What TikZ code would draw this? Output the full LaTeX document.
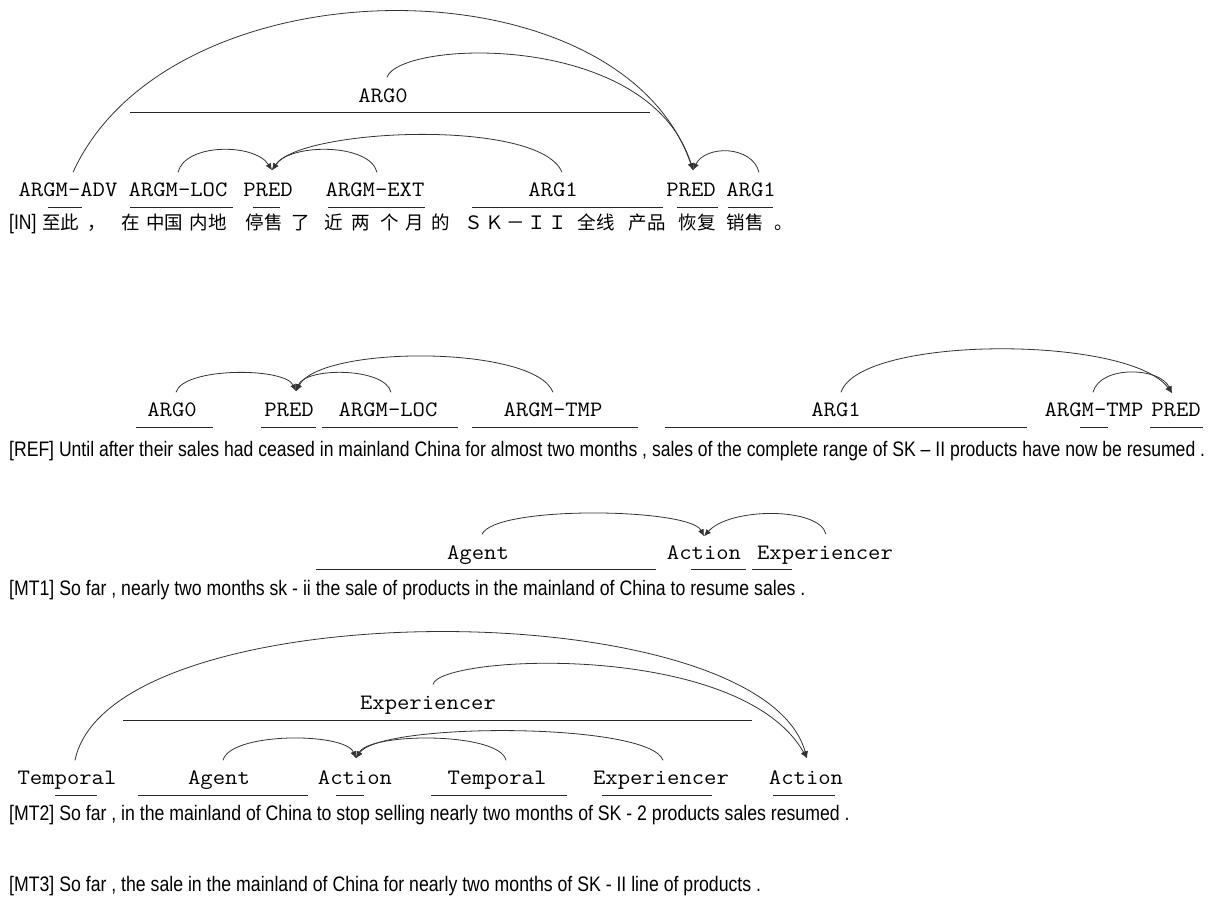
\documentclass[tikz,border=0pt]{standalone}
\usepackage{fontspec}
\usepackage{graphicx}
\usetikzlibrary{arrows.meta}
\newfontfamily\sentfont{Liberation Sans}
\newfontfamily\cjkfont{Noto Sans CJK SC}
\newlength\refw
\newcommand\reftext{[REF] Until after their sales had ceased in mainland China for almost two months , sales of the complete range of SK – II products have now be resumed .}
\newcommand\sent[1]{\scalebox{\sx}[1]{\fontsize{21}{21}\selectfont\sentfont #1}}
\newcommand\sentm[1]{\scalebox{\sxm}[1]{\fontsize{21}{21}\selectfont\sentfont #1}}
\newcommand\lx[1]{\scalebox{1.09}[1]{#1}}
\begin{document}
\settowidth\refw{\fontsize{21}{21}\selectfont\sentfont \reftext}%
\pgfmathsetmacro\sx{1196/\refw}%
\pgfmathsetmacro\sxm{1.006*\sx}%
\begin{tikzpicture}[x=1pt,y=-1pt,
  lab/.style={inner sep=0pt,text height=13pt,text depth=0pt,font=\fontsize{22}{22}\selectfont\ttfamily},
  sen/.style={inner sep=0pt,anchor=base west},
  cjk/.style={inner sep=0pt,anchor=base,font=\fontsize{18.5}{18.5}\selectfont\cjkfont},
  cjkw/.style={inner sep=0pt,anchor=base west,font=\fontsize{18.5}{18.5}\selectfont\cjkfont},
  uline/.style={draw=black!85,line width=0.8pt},
  arc/.style={draw=black!80,line width=0.8pt,-{Latex[length=7pt,width=6pt]}},
]
\useasboundingbox[fill=white] (0,0) rectangle (1223,903);

% ===================== IN =====================
\node[sen] (inlab) at (9,229.5) {\sent{[IN]}};
\node[cjk] (c1) at (60.5,229.5) {至此};
\node[cjkw] (c2) at (87,229.5) {，};
\node[cjk] (c3) at (131,229.5) {在};
\node[cjk] (c4) at (164.5,229.5) {中国};
\node[cjk] (c5) at (208,229.5) {内地};
\node[cjk] (c6) at (264,229.5) {停售};
\node[cjk] (c7) at (301,229.5) {了};
\node[cjk] (c8) at (334,229.5) {近};
\node[cjk] (c9) at (361,229.5) {两};
\node[cjk] (c10) at (390,229.5) {个};
\node[cjk] (c11) at (415,229.5) {月};
\node[cjk] (c12) at (441,229.5) {的};
\node[cjk] (c13) at (474,229.5) {Ｓ};
\node[cjk] (c14) at (495,229.5) {Ｋ};
\node[cjk] (c15) at (516,229.5) {－};
\node[cjk] (c16) at (537,229.5) {Ｉ};
\node[cjk] (c17) at (558,229.5) {Ｉ};
\node[cjk] (c18) at (596,229.5) {全线};
\node[cjk] (c19) at (647,229.5) {产品};
\node[cjk] (c20) at (697,229.5) {恢复};
\node[cjk] (c21) at (745,229.5) {销售};
\node[cjkw] (c22) at (774,229.5) {。};

\node[lab] (adv) at (68,190) {\lx{ARGM-ADV}};
\node[lab] (loc) at (178,190) {\lx{ARGM-LOC}};
\node[lab] (predA) at (268,190) {\lx{PRED}};
\node[lab] (ext) at (375,190) {\lx{ARGM-EXT}};
\node[lab] (argA) at (553,190) {\lx{ARG1}};
\node[lab] (predB) at (691,190) {\lx{PRED}};
\node[lab] (argB) at (751,190) {\lx{ARG1}};
\node[lab] (argZ) at (383,96) {\lx{ARG0}};

\foreach \a/\b in {48/82,130/233,253/280,328/425,472/663,677/718,728/773}
  \draw[uline] (\a,207) -- (\b,207);
\draw[uline] (130,112) -- (650,112);

\draw[arc] ([xshift=5pt,yshift=11pt]adv.north) .. controls (170,-41) and (620,-43) .. ([xshift=2pt,yshift=13pt]predB.north);
\draw[arc] ([xshift=4pt,yshift=12pt]argZ.north) .. controls (400,40) and (650,30) .. ([xshift=2pt,yshift=13pt]predB.north);
\draw[arc] ([xshift=8pt,yshift=11pt]argB.north) .. controls (752,145) and (705,145) .. ([xshift=2pt,yshift=13pt]predB.north);
\draw[arc] ([xshift=0pt,yshift=11pt]loc.north) .. controls (185,143) and (255,143) .. ([xshift=4pt,yshift=13pt]predA.north);
\draw[arc] ([xshift=2pt,yshift=11pt]ext.north) .. controls (370,143) and (290,143) .. ([xshift=4pt,yshift=13pt]predA.north);
\draw[arc] ([xshift=9pt,yshift=11pt]argA.north) .. controls (540,118) and (300,128) .. ([xshift=4pt,yshift=13pt]predA.north);

% ===================== REF =====================
\node[sen] (refs) at (9,456) {\sent{\reftext}};
\node[lab] (r1) at (172,410) {\lx{ARG0}};
\node[lab] (r2) at (289,410) {\lx{PRED}};
\node[lab] (r3) at (388,410) {\lx{ARGM-LOC}};
\node[lab] (r4) at (553,410) {\lx{ARGM-TMP}};
\node[lab] (r5) at (836,410) {\lx{ARG1}};
\node[lab] (r6) at (1094,410) {\lx{ARGM-TMP}};
\node[lab] (r7) at (1176,410) {\lx{PRED}};
\foreach \a/\b in {136/213,261/316,322/458,472/638,665/1027,1080/1108,1150/1203}
  \draw[uline] (\a,427) -- (\b,427);
\draw[arc] ([xshift=4pt,yshift=11pt]r1.north) .. controls (183,367) and (285,367) .. ([xshift=7pt,yshift=12pt]r2.north);
\draw[arc] ([xshift=3pt,yshift=11pt]r3.north) .. controls (385,367) and (305,367) .. ([xshift=7pt,yshift=12pt]r2.north);
\draw[arc] ([xshift=0pt,yshift=11pt]r4.north) .. controls (535,345) and (320,345) .. ([xshift=7pt,yshift=12pt]r2.north);
\draw[arc] ([xshift=5pt,yshift=11pt]r5.north) .. controls (860,335) and (1130,335) .. ([xshift=-4pt,yshift=10pt]r7.north);
\draw[arc] ([xshift=-1pt,yshift=11pt]r6.north) .. controls (1100,365) and (1160,367) .. ([xshift=-4pt,yshift=10pt]r7.north);

% ===================== MT1 =====================
\node[sen] (m1s) at (9,595) {\sentm{[MT1] So far , nearly two months sk - ii the sale of products in the mainland of China to resume sales .}};
\node[lab] (m1a) at (478,553) {\lx{Agent}};
\node[lab] (m1b) at (704,553) {\lx{Action}};
\node[lab] (m1c) at (825,553) {\lx{Experiencer}};
\foreach \a/\b in {316/656,691/746,752/792}
  \draw[uline] (\a,569) -- (\b,569);
\draw[arc] ([xshift=4pt,yshift=12pt]m1a.north) .. controls (495,505) and (690,508) .. ([xshift=0pt,yshift=10pt]m1b.north);
\draw[arc] ([xshift=1pt,yshift=12pt]m1c.north) .. controls (820,507) and (730,507) .. ([xshift=0pt,yshift=10pt]m1b.north);

% ===================== MT2 =====================
\node[sen] (m2s) at (9,820) {\sentm{[MT2] So far , in the mainland of China to stop selling nearly two months of SK - 2 products sales resumed .}};
\node[lab] (t1) at (67,778) {\lx{Temporal}};
\node[lab] (ag2) at (219,778) {\lx{Agent}};
\node[lab] (ac2) at (355,778) {\lx{Action}};
\node[lab] (t2) at (497,778) {\lx{Temporal}};
\node[lab] (ex2) at (661,778) {\lx{Experiencer}};
\node[lab] (ac3) at (806,778) {\lx{Action}};
\node[lab] (exU) at (428,703) {\lx{Experiencer}};
\foreach \a/\b in {55/97,138/308,336/364,431/567,602/712,773/835}
  \draw[uline] (\a,795) -- (\b,795);
\draw[uline] (123,720) -- (752,720);
\draw[arc] ([xshift=8pt,yshift=11pt]t1.north) .. controls (110,590) and (760,590) .. ([xshift=1pt,yshift=13pt]ac3.north);
\draw[arc] ([xshift=5pt,yshift=12pt]exU.north) .. controls (440,655) and (740,640) .. ([xshift=1pt,yshift=13pt]ac3.north);
\draw[arc] ([xshift=4pt,yshift=11pt]ag2.north) .. controls (230,732) and (345,732) .. ([xshift=1pt,yshift=13pt]ac2.north);
\draw[arc] ([xshift=9pt,yshift=11pt]t2.north) .. controls (500,732) and (370,732) .. ([xshift=1pt,yshift=13pt]ac2.north);
\draw[arc] ([xshift=2pt,yshift=11pt]ex2.north) .. controls (650,722) and (380,722) .. ([xshift=1pt,yshift=13pt]ac2.north);

% ===================== MT3 =====================
\node[sen] (m3s) at (9,891) {\sentm{[MT3] So far , the sale in the mainland of China for nearly two months of SK - II line of products .}};
\end{tikzpicture}
\end{document}
